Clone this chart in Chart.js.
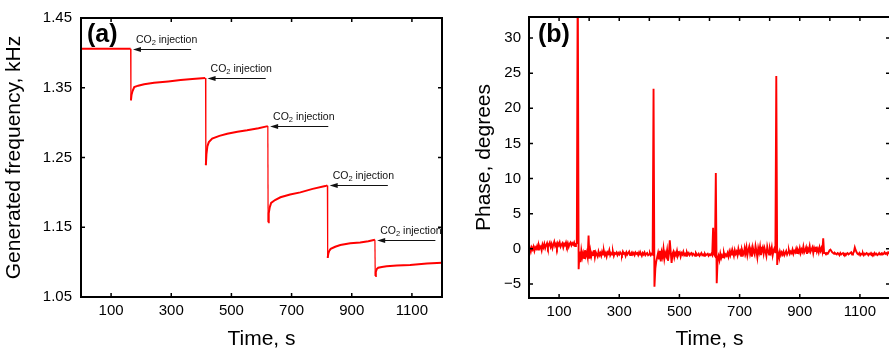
<!DOCTYPE html>
<html><head><meta charset="utf-8">
<script src="https://cdn.jsdelivr.net/npm/chart.js@4/dist/chart.umd.min.js"></script>
<style>
html,body{margin:0;padding:0;width:889px;height:352px;overflow:hidden;background:#fff;}
#ca{position:absolute;left:0;top:0;}
#cb{position:absolute;left:460px;top:0;}
</style></head><body>
<canvas id="ca" width="460" height="352"></canvas>
<canvas id="cb" width="440" height="352"></canvas>
<script>
// ---------- Panel (a): generated frequency ----------
const freqTime = [0, 165, 166, 168, 171, 177, 190, 210, 243, 290, 331, 370, 413,
  414, 415, 417, 420, 425, 436, 460, 486, 520, 552, 590, 621,
  622, 624, 627, 632, 645, 663, 695, 729, 770, 812, 819,
  820, 822, 825, 830, 845, 862, 895, 928, 955, 977,
  978, 980, 983, 988, 1000, 1016, 1050, 1094, 1150, 1200];
const freqValue = [1.406, 1.406, 1.332, 1.340, 1.345, 1.351, 1.353, 1.355, 1.357, 1.359, 1.361, 1.3625, 1.364,
  1.364, 1.239, 1.255, 1.266, 1.272, 1.277, 1.281, 1.284, 1.287, 1.289, 1.292, 1.295,
  1.157, 1.170, 1.178, 1.185, 1.189, 1.193, 1.197, 1.200, 1.205, 1.209, 1.210,
  1.106, 1.112, 1.116, 1.119, 1.122, 1.1245, 1.127, 1.128, 1.130, 1.132,
  1.080, 1.086, 1.090, 1.092, 1.093, 1.094, 1.095, 1.096, 1.098, 1.099];
const injectionTime = [166, 414, 622, 820, 978];
const injectionLevel = [1.406, 1.364, 1.295, 1.210, 1.132];
const freqTicks = [1.05, 1.15, 1.25, 1.35, 1.45];
const timeTicks = [100, 300, 500, 700, 900, 1100];

// ---------- Panel (b): phase (sampled every 3 s from t = 0) ----------
const phaseStep = 3;
const phaseValue = [
 -0.2, 0.1, -0.4, 0.2, -0.1, 0.3, -0.3, 0.2, 0.0, 0.4, -0.1, 0.5, 0.1, 0.3, -0.2, 0.6, 0.2, 0.7, 0.1, 0.5,
 0.8, 0.2, 0.6, 0.9, 0.3, 0.7, 0.1, 0.6, 1.0, 0.4, 0.7, 0.2, 0.8, 0.5, 0.9, 0.3, 0.6, 0.8, 0.2, 0.7,
 0.5, 0.9, 0.4, 0.8, 0.3, 0.7, 0.9, 0.5, 0.8, 0.6, 0.9, 0.4, 0.7, 0.8, 40, -2.9, -0.4, -1.9, -0.3, -1.2,
 -0.6, -1.3, -0.2, -1.0, -0.5, -1.2, 1.9, -1.4, -0.3, -1.1, -0.6, -0.9, -0.2, -1.2, -0.5, -0.8, -1.1, -0.4, -0.9, -0.6,
 -1.0, -0.4, -0.8, -0.3, -0.9, -0.6, -1.1, -0.5, -0.7, -0.2, -0.9, -0.6, -0.8, -0.4, -1.0, -0.6, -0.7, -0.5, -0.9, -0.6,
 -0.8, -0.5, -0.7, -0.9, -0.4, -0.7, -0.6, -1.0, -0.5, -0.8, -0.6, -0.4, -0.9, -0.7, -0.5, -0.8, -0.6, -0.9, -0.5, -0.7,
 -0.6, -0.9, -0.5, -0.8, -0.7, -1.0, -0.6, -0.8, -0.5, -0.9, -0.7, -0.6, -0.9, -0.8, -0.6, -0.9, -0.7, -0.8, 22.8, -5.4,
 -2.8, -1.8, -1.2, -0.6, -1.5, -0.3, -1.8, -0.5, -1.1, 0.0, -1.4, -0.6, -1.0, -0.2, -1.7, -0.8, 1.2, -0.4, -2.0, -0.7,
 -0.4, -1.2, -0.6, -0.9, -0.3, -1.0, -0.7, -0.5, -1.1, -0.6, -0.8, -0.4, -0.9, -0.7, -1.0, -0.5, -0.8, -0.6, -0.9, -0.7,
 -0.6, -0.9, -0.7, -0.8, -1.0, -0.6, -0.8, -0.9, -0.7, -1.0, -0.8, -0.6, -0.9, -0.8, -1.0, -0.7, -0.9, -0.8, -0.7, -1.0,
 -0.8, -0.9, -0.7, -0.9, 3.0, -0.8, -1.0, 10.8, -4.9, -1.5, -1.0, -1.6, -0.7, -1.3, -0.9, -1.2, -0.6, -1.1, -0.8, -1.0,
 -0.6, -1.1, -0.4, -0.9, -0.3, -0.8, -0.5, -1.0, -0.2, -0.7, -0.4, -0.9, 0.0, -0.6, -0.3, -1.0, -0.1, -0.5, -0.8, 0.1,
 -0.6, 0.2, -0.9, -0.2, 0.3, -0.7, -0.1, -1.1, 0.2, -0.4, -0.8, 0.4, -0.3, -1.2, 0.1, -0.5, 0.3, -0.9, -0.2, 0.2,
 -0.7, 0.1, -0.4, -1.0, 0.3, -0.3, -0.8, 0.0, -0.5, 0.2, -0.9, -0.2, 0.1, -0.6, 24.6, -2.3, -0.6, -1.1, -0.4, -0.9,
 -0.5, -0.8, -0.4, -0.9, -0.6, -0.3, -0.8, -0.5, -0.2, -0.7, -0.4, -0.6, -0.1, -0.7, -0.3, -0.5, 0.0, -0.6, -0.2, -0.5,
 0.1, -0.6, -0.1, -0.4, 0.3, -0.5, -0.2, 0.2, -0.7, 0.0, -0.3, 0.4, -0.4, -0.1, 0.2, -0.6, 0.1, -0.3, 0.3, -0.4,
 0.0, -0.5, 0.2, -0.3, 0.1, -0.4, 1.5, -0.6, -0.6, -0.7, -0.6, -0.7, -0.5, -0.2, -0.1, -0.3, -0.5, -0.6, -0.7, -0.6,
 -0.7, -0.8, -0.6, -0.7, -0.9, -0.6, -0.8, -0.7, -0.6, -0.8, -0.7, -0.9, -0.7, -0.6, -0.8, -0.7, -0.6, -0.5, -0.8, -0.7,
 -0.4, 0.2, -0.2, -0.5, -0.7, -0.8, -0.6, -0.9, -0.7, -0.8, -0.6, -0.9, -0.7, -0.8, -0.6, -0.7, -0.9, -0.7, -0.8, -0.6,
 -0.8, -0.7, -0.9, -0.6, -0.8, -0.7, -0.9, -0.8, -0.6, -0.8, -0.7, -0.6, -0.8, -0.7, -0.5, -0.7, -0.6, -0.8, -0.5, -0.6,
 -0.6
];
const phaseTicks = [-5, 0, 5, 10, 15, 20, 25, 30];
const phaseTopTicks = [100, 200, 300, 400, 500, 600, 700, 800, 900, 1000, 1100];

const FAMILY = "'Liberation Sans', Arial, Helvetica, sans-serif";
Chart.defaults.font.family = FAMILY;
Chart.defaults.color = '#000';
const RED = '#ff0000';

function framePlugin(cfg) {
  return {
    id: 'frame',
    afterDatasetsDraw(chart) {
      const {ctx, chartArea: a} = chart;
      const xs = chart.scales.x, ys = chart.scales.y;
      const L = 4;
      ctx.save();
      ctx.strokeStyle = '#000';
      ctx.lineWidth = 1.5;
      ctx.beginPath();
      cfg.bottom.forEach(v => { const p = xs.getPixelForValue(v); ctx.moveTo(p, a.bottom); ctx.lineTo(p, a.bottom - L); });
      cfg.top.forEach(v => { const p = xs.getPixelForValue(v); ctx.moveTo(p, a.top); ctx.lineTo(p, a.top + L); });
      cfg.left.forEach(v => { const p = ys.getPixelForValue(v); ctx.moveTo(a.left, p); ctx.lineTo(a.left + L, p); });
      cfg.right.forEach(v => { const p = ys.getPixelForValue(v); ctx.moveTo(a.right, p); ctx.lineTo(a.right - L, p); });
      ctx.stroke();
      ctx.lineWidth = 2;
      ctx.strokeRect(a.left, a.top, a.right - a.left, a.bottom - a.top);
      ctx.font = 'bold 25px ' + FAMILY;
      ctx.fillStyle = '#000';
      ctx.textBaseline = 'alphabetic';
      ctx.fillText(cfg.label, a.left + cfg.labelDx, a.top + cfg.labelDy);
      ctx.restore();
    }
  };
}

const annotationPlugin = {
  id: 'co2',
  afterDatasetsDraw(chart) {
    const {ctx} = chart;
    const xs = chart.scales.x, ys = chart.scales.y;
    ctx.save();
    ctx.strokeStyle = '#111';
    ctx.fillStyle = '#111';
    injectionTime.forEach((t, i) => {
      const tip = xs.getPixelForValue(t) + 2;
      const py = Math.round(ys.getPixelForValue(injectionLevel[i])) + 0.5;
      const tail = xs.getPixelForValue(t + 200);
      ctx.lineWidth = 1;
      ctx.beginPath(); ctx.moveTo(tip + 6, py); ctx.lineTo(tail, py); ctx.stroke();
      ctx.beginPath(); ctx.moveTo(tip, py); ctx.lineTo(tip + 8, py - 2.5); ctx.lineTo(tip + 8, py + 2.5); ctx.closePath(); ctx.fill();
      let tx = tip + 3;
      const by = py - 7;
      ctx.textBaseline = 'alphabetic';
      ctx.font = '10.5px ' + FAMILY;
      ctx.fillText('CO', tx, by); tx += ctx.measureText('CO').width;
      ctx.font = '7.5px ' + FAMILY;
      ctx.fillText('2', tx, by + 2.5); tx += ctx.measureText('2').width;
      ctx.font = '10.5px ' + FAMILY;
      ctx.fillText(' injection', tx, by);
    });
    ctx.restore();
  }
};

function tickFont() { return {size: 15, family: FAMILY}; }
function titleFont() { return {size: 21, family: FAMILY}; }
const noGrid = {display: false, drawTicks: false, tickLength: 0};

new Chart(document.getElementById('ca'), {
  type: 'line',
  data: {datasets: [{
    data: freqTime.map((t, i) => ({x: t, y: freqValue[i]})),
    borderColor: RED, borderWidth: 2, pointRadius: 0, tension: 0, fill: false,
    segment: {borderWidth: c => Math.abs(c.p1.parsed.y - c.p0.parsed.y) > 0.03 ? 1.2 : 2}
  }]},
  options: {
    responsive: false, animation: false, events: [],
    layout: {padding: {top: 14, right: 18, left: 0, bottom: 0}},
    plugins: {legend: {display: false}, tooltip: {enabled: false}},
    scales: {
      x: {type: 'linear', min: 0, max: 1200,
        grid: noGrid, border: {display: false},
        afterBuildTicks: s => { s.ticks = timeTicks.map(v => ({value: v})); },
        afterFit: s => { s.height = 55; },
        ticks: {font: tickFont(), color: '#000', padding: 5, maxRotation: 0, autoSkip: false, callback: v => String(v)},
        title: {display: true, text: 'Time, s', font: titleFont(), color: '#000', padding: {top: 0, bottom: 0}}},
      y: {type: 'linear', min: 1.05, max: 1.45,
        grid: noGrid, border: {display: false},
        afterBuildTicks: s => { s.ticks = freqTicks.map(v => ({value: v})); },
        afterFit: s => { s.width = 81; },
        ticks: {font: tickFont(), color: '#000', padding: 9, callback: v => Number(v).toFixed(2)},
        title: {display: true, text: 'Generated frequency, kHz', font: titleFont(), color: '#000', padding: {top: 2, bottom: 0}}}
    }
  },
  plugins: [framePlugin({bottom: timeTicks, top: timeTicks, left: freqTicks, right: freqTicks, label: '(a)', labelDx: 6, labelDy: 23.5}), annotationPlugin]
});

new Chart(document.getElementById('cb'), {
  type: 'line',
  data: {datasets: [{
    data: phaseValue.map((v, i) => ({x: i * phaseStep, y: v})),
    borderColor: RED, borderWidth: 1.9, pointRadius: 0, tension: 0, fill: false
  }]},
  options: {
    responsive: false, animation: false, events: [],
    layout: {padding: {top: 15, right: 10, left: 0, bottom: 0}},
    plugins: {legend: {display: false}, tooltip: {enabled: false}},
    scales: {
      x: {type: 'linear', min: 0, max: 1200,
        grid: noGrid, border: {display: false},
        afterBuildTicks: s => { s.ticks = timeTicks.map(v => ({value: v})); },
        afterFit: s => { s.height = 54; },
        ticks: {font: tickFont(), color: '#000', padding: 5, maxRotation: 0, autoSkip: false, callback: v => String(v)},
        title: {display: true, text: 'Time, s', font: titleFont(), color: '#000', padding: {top: 0, bottom: 0}}},
      y: {type: 'linear', min: -7, max: 33,
        grid: noGrid, border: {display: false},
        afterBuildTicks: s => { s.ticks = phaseTicks.map(v => ({value: v})); },
        afterFit: s => { s.width = 69; },
        ticks: {font: tickFont(), color: '#000', padding: 8, callback: v => v < 0 ? '\u2212' + Math.abs(v) : String(v)},
        title: {display: true, text: 'Phase, degrees', font: titleFont(), color: '#000', padding: {top: 12, bottom: 0}}}
    }
  },
  plugins: [framePlugin({bottom: timeTicks, top: phaseTopTicks, left: phaseTicks, right: phaseTicks, label: '(b)', labelDx: 9, labelDy: 25})]
});
</script>
</body></html>
